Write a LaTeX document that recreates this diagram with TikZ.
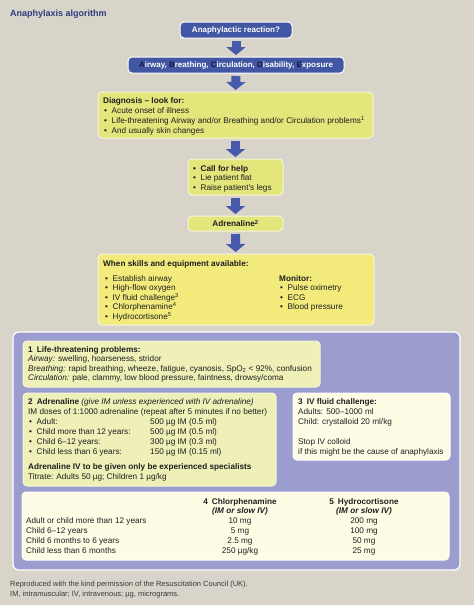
\documentclass[tikz,border=0pt]{standalone}
\usepackage{fontspec}
\setmainfont{Liberation Sans}
\usetikzlibrary{arrows.meta}
\definecolor{bg}{HTML}{D8D4C9}
\definecolor{flowblue}{HTML}{4157A3}
\definecolor{arrowblue}{HTML}{4659AB}
\definecolor{navy}{HTML}{121840}
\definecolor{diagfill}{HTML}{E2E67B}
\definecolor{skillfill}{HTML}{F2EB7C}
\definecolor{purple}{HTML}{9A9DCE}
\definecolor{paleyellow}{HTML}{EEF0B8}
\definecolor{cream}{HTML}{FFFCE6}
\definecolor{titleblue}{HTML}{2E3C7E}
\definecolor{ink}{HTML}{1E1E1E}
\definecolor{foot}{HTML}{3A3A3A}
\definecolor{yborder}{HTML}{F6F6DC}
\newcommand\bul{\makebox[7.5pt][l]{•}}
\newcommand\ltr[1]{\textcolor{navy}{#1}}
\begin{document}
\begin{tikzpicture}[x=1pt,y=-1pt,
  box/.style={rectangle, rounded corners=4pt, inner sep=0pt, line width=1pt},
  bluebox/.style={box, fill=flowblue, draw=white, text=white, font=\bfseries\fontsize{8}{10}\selectfont},
  ybox/.style={box, fill=diagfill, draw=yborder},
  txt/.style={anchor=base west, inner sep=0pt, text=ink, font=\fontsize{8.2}{10}\selectfont},
  btxt/.style={txt, font=\bfseries\fontsize{8.2}{10}\selectfont},
  ctxt/.style={txt, anchor=base},
  cbtxt/.style={btxt, anchor=base},
  ftxt/.style={anchor=base west, inner sep=0pt, text=foot, font=\fontsize{7.5}{9}\selectfont},
  flow/.style={line width=9pt, draw=arrowblue, -{Triangle[length=8pt,width=19pt]}, shorten <=2.5pt, shorten >=1.5pt}
]
\fill[bg] (0,0) rectangle (474,605);
\useasboundingbox (0,0) rectangle (474,605);

% title
\node[anchor=base west, inner sep=0pt, text=titleblue, font=\bfseries\fontsize{9}{11}\selectfont] (title) at (10,16.5) {Anaphylaxis algorithm};

% flow boxes
\node[bluebox, minimum width=112pt, minimum height=16pt] (b1) at (236,30) {Anaphylactic reaction?};
\node[bluebox, minimum width=216pt, minimum height=16pt] (b2) at (236,65) {\ltr{A}irway, \ltr{B}reathing, \ltr{C}irculation, \ltr{D}isability, \ltr{E}xposure};
\node[ybox, minimum width=275pt, minimum height=46pt] (diag) at (235.5,115) {};
\node[ybox, minimum width=95pt, minimum height=36pt] (help) at (235.5,177) {};
\node[ybox, minimum width=95pt, minimum height=15pt, font=\bfseries\fontsize{8.2}{10}\selectfont, text=ink] (adr) at (235.5,223.5) {Adrenaline\textsuperscript{2}};
\node[ybox, fill=skillfill, minimum width=276pt, minimum height=71pt] (skills) at (236,289.5) {};

\draw[flow] (b1) -- (b2);
\draw[flow] (b2) -- (diag);
\draw[flow] (diag) -- (help);
\draw[flow] (help) -- (adr);
\draw[flow] (adr) -- (skills);

% diagnosis text
\node[btxt] (dg0) at (103,103) {Diagnosis – look for:};
\node[txt] (dg1) at (104,113.5) {\bul Acute onset of illness};
\node[txt] (dg2) at (104,123.2) {\bul Life-threatening Airway and/or Breathing and/or Circulation problems\textsuperscript{1}};
\node[txt] (dg3) at (104,133) {\bul And usually skin changes};

% call for help
\node[btxt] (h1) at (193,171) {\bul Call for help};
\node[txt] (h2) at (193,180.5) {\bul Lie patient flat};
\node[txt] (h3) at (193,190) {\bul Raise patient’s legs};

% skills
\node[btxt] (s0) at (103,266) {When skills and equipment available:};
\node[txt] (s1) at (105,281) {\bul Establish airway};
\node[txt] (s2) at (105,290.6) {\bul High-flow oxygen};
\node[txt] (s3) at (105,300.2) {\bul IV fluid challenge\textsuperscript{3}};
\node[txt] (s4) at (105,309.8) {\bul Chlorphenamine\textsuperscript{4}};
\node[txt] (s5) at (105,319.4) {\bul Hydrocortisone\textsuperscript{5}};
\node[btxt] (m0) at (279,281) {Monitor:};
\node[txt] (m1) at (280,290.6) {\bul Pulse oximetry};
\node[txt] (m2) at (280,300.2) {\bul ECG};
\node[txt] (m3) at (280,309.8) {\bul Blood pressure};

% big purple panel
\node[box, rounded corners=6pt, fill=purple, draw=white, line width=1.2pt, minimum width=447pt, minimum height=238pt] (panel) at (236.5,451) {};
\node[box, fill=paleyellow, draw=yborder, minimum width=297pt, minimum height=46pt] (p1) at (171.5,364) {};
\node[box, fill=paleyellow, draw=yborder, minimum width=253pt, minimum height=93pt] (p2) at (149.5,439.5) {};
\node[box, fill=cream, draw=white, minimum width=157pt, minimum height=67pt] (p3) at (371.5,426.5) {};
\node[box, fill=cream, draw=white, minimum width=427pt, minimum height=68pt] (tab) at (235.5,526) {};

% p1
\node[btxt] (q0) at (28,352) {1\hspace{4pt}Life-threatening problems:};
\node[txt] (q1) at (28,361.5) {\textit{Airway:} swelling, hoarseness, stridor};
\node[txt] (q2) at (28,371) {\textit{Breathing:} rapid breathing, wheeze, fatigue, cyanosis, SpO\textsubscript{2} < 92\%, confusion};
\node[txt] (q3) at (28,380.5) {\textit{Circulation:} pale, clammy, low blood pressure, faintness, drowsy/coma};

% p2
\node[btxt] (r0) at (28,404.7) {2\hspace{4pt}Adrenaline \textmd{\textit{(give IM unless experienced with IV adrenaline)}}};
\node[txt] (r1) at (28,414) {IM doses of 1:1000 adrenaline (repeat after 5 minutes if no better)};
\node[txt] (r2) at (29,424) {\bul Adult:};
\node[txt] (r3) at (29,434) {\bul Child more than 12 years:};
\node[txt] (r4) at (29,444) {\bul Child 6–12 years:};
\node[txt] (r5) at (29,454) {\bul Child less than 6 years:};
\node[txt] (d2) at (150,424) {500 µg IM (0.5 ml)};
\node[txt] (d3) at (150,434) {500 µg IM (0.5 ml)};
\node[txt] (d4) at (150,444) {300 µg IM (0.3 ml)};
\node[txt] (d5) at (150,454) {150 µg IM (0.15 ml)};
\node[btxt] (r6) at (28,469.7) {Adrenaline IV to be given only be experienced specialists};
\node[txt] (r7) at (28,479.7) {Titrate: Adults 50 µg; Children 1 µg/kg};

% p3
\node[btxt] (f0) at (298,404.7) {3\hspace{4pt}IV fluid challenge:};
\node[txt] (f1) at (298,414.5) {Adults: 500–1000 ml};
\node[txt] (f2) at (298,424.5) {Child: crystalloid 20 ml/kg};
\node[txt] (f3) at (298,444) {Stop IV colloid};
\node[txt] (f4) at (298,454) {if this might be the cause of anaphylaxis};

% table
\node[cbtxt] (c1) at (240,504) {4\hspace{4pt}Chlorphenamine};
\node[cbtxt] (c1b) at (240,513) {\textit{(IM or slow IV)}};
\node[cbtxt] (c2) at (364,504) {5\hspace{4pt}Hydrocortisone};
\node[cbtxt] (c2b) at (364,513) {\textit{(IM or slow IV)}};
\node[txt] (t1) at (26,523) {Adult or child more than 12 years};
\node[txt] (t2) at (26,533) {Child 6–12 years};
\node[txt] (t3) at (26,543) {Child 6 months to 6 years};
\node[txt] (t4) at (26,553) {Child less than 6 months};
\node[ctxt] (u1) at (240,523) {10 mg};
\node[ctxt] (u2) at (240,533) {5 mg};
\node[ctxt] (u3) at (240,543) {2.5 mg};
\node[ctxt] (u4) at (240,553) {250 µg/kg};
\node[ctxt] (v1) at (364,523) {200 mg};
\node[ctxt] (v2) at (364,533) {100 mg};
\node[ctxt] (v3) at (364,543) {50 mg};
\node[ctxt] (v4) at (364,553) {25 mg};

% footnote
\node[ftxt] (n1) at (10,586) {Reproduced with the kind permission of the Resuscitation Council (UK).};
\node[ftxt] (n2) at (10,596) {IM, intramuscular; IV, intravenous; µg, micrograms.};
\end{tikzpicture}
\end{document}
